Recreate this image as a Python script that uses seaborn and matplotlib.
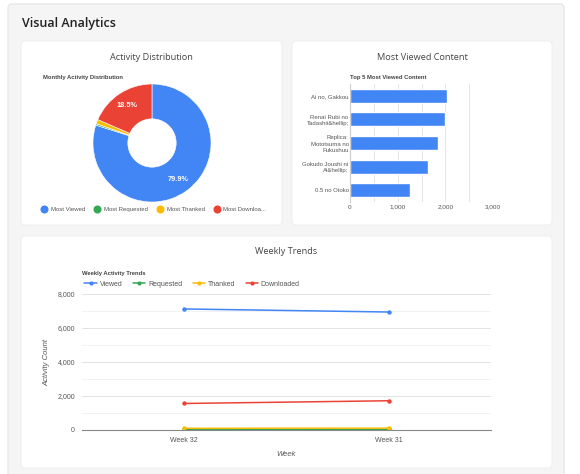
import pandas as pd
import matplotlib.pyplot as plt
import seaborn as sns
from matplotlib.patches import FancyBboxPatch
from matplotlib.lines import Line2D

# pie data
pie_labels = ["Most Viewed", "Most Requested", "Most Thanked", "Most Downloaded"]
pie_legend = ["Most Viewed", "Most Requested", "Most Thanked", "Most Downloa..."]
pie_values = [14030, 70, 210, 3250]

# bar data
bar_titles = ["Ai no, Gakkou", "Renai Rubi no\nTadashii&hellip;", "Replica:\nMototsuma no\nFukushuu",
              "Gokudo Joushi ni\nAi&hellip;", "0.5 no Otoko"]
bar_views = [2030, 2000, 1850, 1630, 1250]

# weekly data
weeks = ["Week 32", "Week 31"]
viewed = [7120, 6940]
requested = [30, 40]
thanked = [100, 110]
downloaded = [1560, 1720]

BLUE, GREEN, YELLOW, RED = "#4285F4", "#34A853", "#FBBC05", "#EA4335"
W, H = 580, 474

sns.set_theme(style="white")
plt.rcParams['font.family'] = ['Liberation Sans', 'DejaVu Sans']
TITLE_FONT = ['Open Sans', 'DejaVu Sans']


def box(x0, y0, x1, y1):
    # pixel box (top-left origin) -> figure fraction
    return [x0 / W, 1 - y1 / H, (x1 - x0) / W, (y1 - y0) / H]


fig = plt.figure(figsize=(W / 100, H / 100), dpi=100)
fig.patch.set_facecolor("white")

# background layer in pixel coordinates
bg = fig.add_axes([0, 0, 1, 1], zorder=-10)
bg.set_xlim(0, W)
bg.set_ylim(H, 0)
bg.axis("off")
bg.add_patch(FancyBboxPatch((8, 4), 556, 480, boxstyle="round,pad=0,rounding_size=4",
                            facecolor="#f5f5f5", edgecolor="#e4e4e4", linewidth=0.8))
for x0, y0, x1, y1 in [(21, 41, 282, 225), (292, 41, 552, 225), (21, 236, 552, 468)]:
    bg.add_patch(FancyBboxPatch((x0, y0), x1 - x0, y1 - y0, boxstyle="round,pad=0,rounding_size=4",
                                facecolor="white", edgecolor="#ececec", linewidth=0.6))
bg.text(22, 23, "Visual Analytics", fontsize=9, fontweight="semibold", color="#222",
        family=TITLE_FONT, va="center", ha="left")
bg.text(151.5, 57, "Activity Distribution", fontsize=6.6, color="#444", family=TITLE_FONT,
        va="center", ha="center")
bg.text(422, 57, "Most Viewed Content", fontsize=6.6, color="#444", family=TITLE_FONT,
        va="center", ha="center")
bg.text(286, 251, "Weekly Trends", fontsize=6.6, color="#444", family=TITLE_FONT,
        va="center", ha="center")
bg.text(43, 77, "Monthly Activity Distribution", fontsize=4.2, fontweight="bold", color="#444",
        va="center", ha="left")
bg.text(350, 77, "Top 5 Most Viewed Content", fontsize=4.2, fontweight="bold", color="#444",
        va="center", ha="left")
bg.text(82, 274, "Weekly Activity Trends", fontsize=4.2, fontweight="bold", color="#444",
        va="center", ha="left")

# 1. donut
ax1 = fig.add_axes(box(93, 84, 211, 202))
ax1.pie(pie_values, colors=[BLUE, GREEN, YELLOW, RED], startangle=90, counterclock=False,
        wedgeprops=dict(width=0.59, edgecolor="white", linewidth=0.4),
        autopct=lambda p: f"{p:.1f}%" if p > 5 else "", pctdistance=0.76,
        textprops=dict(color="white", fontsize=5.3, fontweight="semibold"))
ax1.set_xlim(-1, 1)
ax1.set_ylim(-1, 1)
handles = [Line2D([], [], marker="o", linestyle="", markersize=4.8, color=c)
           for c in [BLUE, GREEN, YELLOW, RED]]
fig.legend(handles, pie_legend, loc="center", bbox_to_anchor=(152 / W, 1 - 209 / H), ncol=4,
           frameon=False, fontsize=4.3, handletextpad=0.15, columnspacing=1.0, labelcolor="#555")

# 2. horizontal bars
ax2 = fig.add_axes(box(350, 84, 493, 202))
bar_df = pd.DataFrame({"title": bar_titles, "views": bar_views})
sns.barplot(data=bar_df, x="views", y="title", color=BLUE, width=0.6, ax=ax2, saturation=1)
ax2.set_xlim(0, 3000)
ax2.set_xticks([0, 1000, 2000, 3000])
ax2.set_xticklabels(["0", "1,000", "2,000", "3,000"])
ax2.set_xticks([500, 1500, 2500], minor=True)
ax2.grid(axis="x", which="both", color="#e4e4e4", linewidth=0.7)
ax2.set_axisbelow(True)
ax2.set_xlabel("")
ax2.set_ylabel("")
for s in ["top", "right", "bottom"]:
    ax2.spines[s].set_visible(False)
ax2.spines["left"].set_color("#cccccc")
ax2.spines["left"].set_linewidth(0.8)
ax2.tick_params(length=0, labelsize=4.3, colors="#555", pad=1)
ax2.tick_params(axis="x", pad=2, labelsize=4.6)
for lab in ax2.get_yticklabels():
    lab.set_linespacing(1.25)

# 3. weekly lines
ax3 = fig.add_axes(box(82, 294, 491, 430))
line_df = pd.DataFrame({
    "week": weeks * 4,
    "series": ["Viewed"] * 2 + ["Requested"] * 2 + ["Thanked"] * 2 + ["Downloaded"] * 2,
    "value": viewed + requested + thanked + downloaded,
})
sns.lineplot(data=line_df, x="week", y="value", hue="series", sort=False, marker="o",
             markersize=3.2, markeredgewidth=0, linewidth=1.1,
             palette=[BLUE, GREEN, YELLOW, RED], ax=ax3, legend=False)
ax3.set_xlim(-0.5, 1.5)
ax3.set_ylim(0, 8000)
ax3.set_yticks([0, 2000, 4000, 6000, 8000])
ax3.set_yticklabels(["0", "2,000", "4,000", "6,000", "8,000"])
ax3.set_yticks([1000, 3000, 5000, 7000], minor=True)
ax3.grid(axis="y", which="major", color="#e2e2e2", linewidth=0.7)
ax3.grid(axis="y", which="minor", color="#f2f2f2", linewidth=0.7)
for s in ["top", "right", "left"]:
    ax3.spines[s].set_visible(False)
ax3.spines["bottom"].set_color("#888")
ax3.spines["bottom"].set_linewidth(0.8)
ax3.tick_params(length=0, labelsize=5, colors="#555", pad=5)
ax3.set_xlabel("Week", fontsize=5.5, style="italic", color="#555", labelpad=5)
ax3.set_ylabel("Activity Count", fontsize=5.5, style="italic", color="#555", labelpad=5)
line_handles = [Line2D([], [], marker="o", markersize=3, markeredgewidth=0, linewidth=1.1, color=c)
                for c in [BLUE, GREEN, YELLOW, RED]]
fig.legend(line_handles, ["Viewed", "Requested", "Thanked", "Downloaded"], loc="center left",
           bbox_to_anchor=(78 / W, 1 - 284 / H), ncol=4, frameon=False, fontsize=5,
           handlelength=1.8, handletextpad=0.4, columnspacing=1.5, labelcolor="#555")

fig.savefig("out.png", dpi=100)
